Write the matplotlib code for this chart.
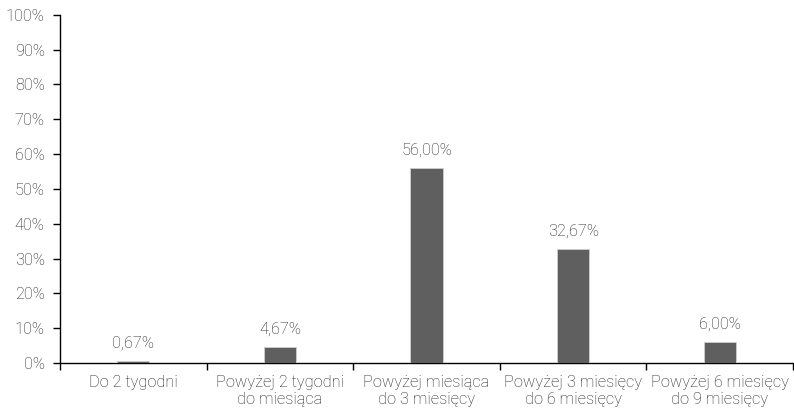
import matplotlib
matplotlib.use("Agg")
import matplotlib.pyplot as plt
from matplotlib.ticker import FixedLocator, PercentFormatter

plt.rcParams["font.family"] = ["Roboto", "DejaVu Sans"]
plt.rcParams["font.weight"] = "light"

categories = ["Do 2 tygodni", "Powyżej 2 tygodni\ndo miesiąca", "Powyżej miesiąca\ndo 3 miesięcy",
              "Powyżej 3 miesięcy\ndo 6 miesięcy", "Powyżej 6 miesięcy\ndo 9 miesięcy"]
values = [0.67, 4.67, 56.00, 32.67, 6.00]
value_labels = ["0,67%", "4,67%", "56,00%", "32,67%", "6,00%"]

BAR = "#5f5f5f"
TXT = "#222222"
FS = 11.8

fig = plt.figure(figsize=(7.94, 4.17), dpi=100)
ax = fig.add_axes([0.0756, 0.1295, 0.9232, 0.835])

x = list(range(len(categories)))
ax.bar(x, values, width=0.22, color=BAR, edgecolor="#cfcfcf", linewidth=0.6, zorder=3)
for xi, v, lab in zip(x, values, value_labels):
    ax.text(xi, v + 3.0, lab, ha="center", va="bottom", fontsize=FS, color=TXT)

ax.set_xlim(-0.5, len(categories) - 0.5)
ax.set_ylim(0, 100)
ax.set_yticks(range(0, 101, 10))
ax.yaxis.set_major_formatter(PercentFormatter(decimals=0))

ax.xaxis.set_major_locator(FixedLocator([i - 0.5 for i in range(len(categories) + 1)]))
ax.xaxis.set_major_formatter(plt.NullFormatter())
ax.set_xticks(x, minor=True)
ax.set_xticklabels(categories, minor=True, linespacing=1.15)
ax.tick_params(axis="x", which="minor", length=0, pad=9, labelsize=FS, labelcolor=TXT)
ax.tick_params(axis="x", which="major", direction="out", length=5, width=1)
ax.tick_params(axis="y", direction="out", length=5, width=1, labelsize=FS, labelcolor=TXT, pad=6)

for s in ("top", "right"):
    ax.spines[s].set_visible(False)
ax.spines["left"].set_linewidth(1)
ax.spines["bottom"].set_linewidth(1)

fig.savefig("out.png", dpi=100)
